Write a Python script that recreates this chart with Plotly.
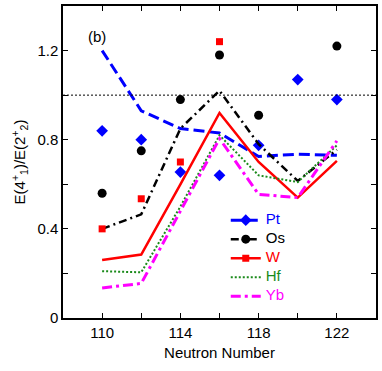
import plotly.graph_objects as go

# neutron numbers
neutrons = [110, 112, 114, 116, 118, 120, 122]

# calculated ratios (lines)
pt_calc = [1.20, 0.93, 0.85, 0.83, 0.725, 0.735, 0.73]
os_calc = [0.40, 0.465, 0.85, 1.02, 0.78, 0.615, 0.755]
w_calc = [0.26, 0.285, 0.60, 0.92, 0.70, 0.54, 0.705]
hf_calc = [0.21, 0.205, 0.50, 0.82, 0.64, 0.61, 0.775]
yb_calc = [0.135, 0.155, 0.48, 0.805, 0.555, 0.54, 0.795]

# experimental ratios (points)
pt_exp_n = [110, 112, 114, 116, 118, 120, 122]
pt_exp = [0.84, 0.80, 0.655, 0.64, 0.775, 1.07, 0.98]
os_exp_n = [110, 112, 114, 116, 118, 122]
os_exp = [0.56, 0.75, 0.98, 1.18, 0.91, 1.22]
w_exp_n = [110, 112, 114, 116]
w_exp = [0.40, 0.535, 0.70, 1.24]

FONT = "Liberation Sans, Arial, sans-serif"

series = [
    # name, color, line values, dash, width, exp x, exp y, symbol, size
    ("Pt", "#0000ff", pt_calc, "11px,5px", 3, pt_exp_n, pt_exp, "diamond", 9),
    ("Os", "#000000", os_calc, "8px,4px,2px,4px", 2.5, os_exp_n, os_exp, "circle", 9),
    ("W", "#ff0000", w_calc, "solid", 2.5, w_exp_n, w_exp, "square", 7),
    ("Hf", "#1a8a1a", hf_calc, "2px,2px", 2, None, None, None, None),
    ("Yb", "#ff00ff", yb_calc, "10px,4px,3px,4px", 3, None, None, None, None),
]

fig = go.Figure()

for name, color, calc, dash, width, ex, ey, sym, size in series:
    fig.add_trace(go.Scatter(
        x=neutrons, y=calc, mode="lines", showlegend=False,
        line=dict(color=color, dash=dash, width=width)
    ))
    if ex is not None:
        fig.add_trace(go.Scatter(
            x=ex, y=ey, mode="markers", showlegend=False,
            marker=dict(symbol=sym, size=size, color=color)
        ))
    # legend entry showing line + marker together
    fig.add_trace(go.Scatter(
        x=[None], y=[None],
        mode="lines+markers" if sym else "lines",
        name='<span style="color:%s;font-size:15px">%s</span>' % (color, name),
        line=dict(color=color, dash=dash, width=width),
        marker=dict(symbol=sym or "circle", size=size or 1, color=color)
    ))

# reference line at ratio 1
fig.add_hline(y=1.0, line=dict(color="black", width=1, dash="2px,2px"))

fig.add_annotation(x=109.75, y=1.265, text="(b)", showarrow=False,
                   font=dict(size=15, color="black", family=FONT))

axis_common = dict(
    showline=True, linecolor="black", linewidth=1.5, mirror="ticks",
    ticks="inside", ticklen=5, tickcolor="black", tickwidth=1,
    showgrid=False, zeroline=False,
    tickfont=dict(size=15, color="black", family=FONT),
)

fig.update_xaxes(
    range=[108, 124], tick0=110, dtick=4,
    minor=dict(dtick=2, tick0=110, ticks="inside", ticklen=5, tickcolor="black"),
    title=dict(text="Neutron Number", font=dict(size=15, color="black", family=FONT), standoff=8),
    **axis_common
)
fig.update_yaxes(
    range=[0, 1.4], tick0=0, dtick=0.4,
    minor=dict(dtick=0.2, tick0=0, ticks="inside", ticklen=5, tickcolor="black"),
    title=dict(text="E(4<sup>+</sup><sub>1</sub>)/E(2<sup>+</sup><sub>2</sub>)",
               font=dict(size=15, color="black", family=FONT), standoff=8),
    **axis_common
)

fig.update_layout(
    width=382, height=371,
    margin=dict(l=63, r=5, t=4, b=53),
    plot_bgcolor="white", paper_bgcolor="white",
    font=dict(family=FONT, size=14, color="black"),
    legend=dict(x=0.52, y=0.36, xanchor="left", yanchor="top",
                bgcolor="rgba(0,0,0,0)", borderwidth=0,
                font=dict(size=11, family=FONT), tracegroupgap=0,
                itemsizing="trace"),
)

fig.write_html("out.html", config={"displayModeBar": False},
               post_script="document.body.style.margin='0';")
